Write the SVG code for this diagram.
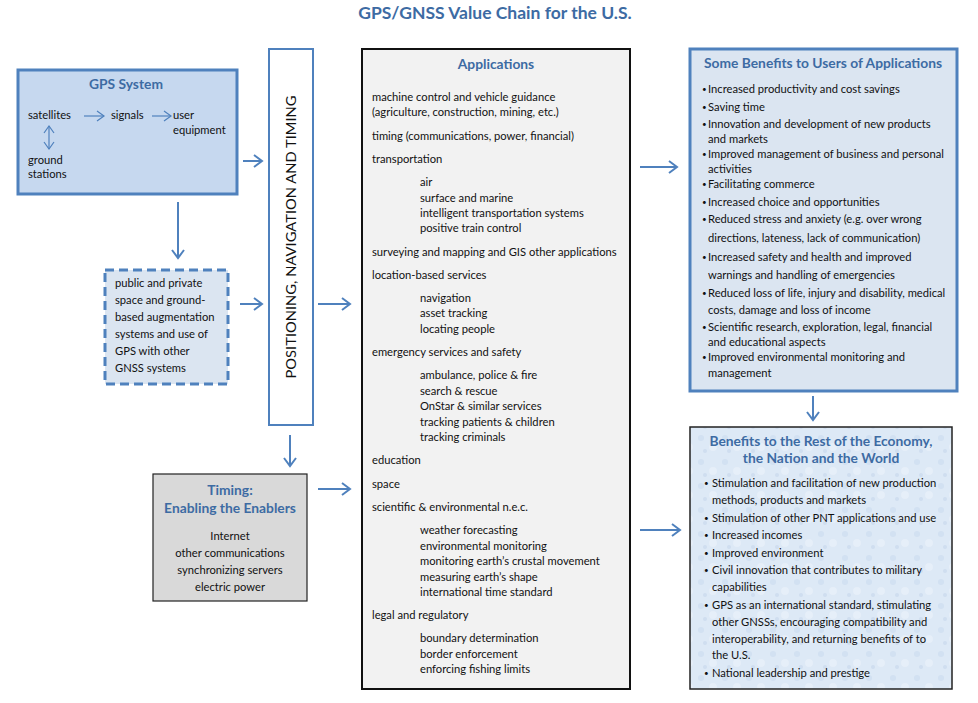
<svg xmlns="http://www.w3.org/2000/svg" width="978" height="703" viewBox="0 0 978 703">
<defs>
<marker id="ah" markerUnits="userSpaceOnUse" markerWidth="12" markerHeight="14" refX="9" refY="7" orient="auto">
<path d="M1,1 L9,7 L1,13" fill="none" stroke="#4f81bd" stroke-width="2"/>
</marker>
<marker id="ahs" markerUnits="userSpaceOnUse" markerWidth="10" markerHeight="12" refX="8" refY="6" orient="auto-start-reverse">
<path d="M1,1 L8,6 L1,11" fill="none" stroke="#4f81bd" stroke-width="1.2"/>
</marker>
<pattern id="tex" width="24" height="24" patternUnits="userSpaceOnUse">
<rect width="24" height="24" fill="#dde9f6"/>
<circle cx="5" cy="6" r="3" fill="#d2e1f2"/>
<circle cx="17" cy="15" r="4" fill="#e6eff9"/>
<circle cx="9" cy="19" r="2" fill="#cfdef0"/>
</pattern>
</defs>
<style>
text{font-family:Lato,"Open Sans","Liberation Sans",sans-serif;fill:#111;font-size:11.2px}
.h{font-weight:bold;fill:#3d6ba3;font-size:13.8px}
.c{text-anchor:middle}
.b{font-size:8px}
.con line{stroke:#4f81bd;stroke-width:2;marker-end:url(#ah)}
</style>
<rect width="978" height="703" fill="#fff"/>
<text class="h c" x="495" y="19" style="font-size:17.5px">GPS/GNSS Value Chain for the U.S.</text>

<g id="gps">
<rect x="18" y="70" width="219" height="124" fill="#c6d8ef" stroke="#4f81bd" stroke-width="3"/>
<text class="h c" x="126" y="89">GPS System</text>
<text x="28" y="119">satellites</text>
<text x="111" y="119">signals</text>
<text x="173" y="119">user</text>
<text x="173" y="134">equipment</text>
<text x="28" y="164">ground</text>
<text x="28" y="178">stations</text>
<line x1="84" y1="116" x2="104" y2="116" stroke="#4f81bd" stroke-width="1.2" marker-end="url(#ahs)"/>
<line x1="152" y1="116" x2="171" y2="116" stroke="#4f81bd" stroke-width="1.2" marker-end="url(#ahs)"/>
<line x1="49" y1="126" x2="49" y2="149" stroke="#4f81bd" stroke-width="1.2" marker-start="url(#ahs)" marker-end="url(#ahs)"/>
</g>

<g id="augment">
<rect x="105" y="270" width="123" height="114" fill="#dbe5f1" stroke="#4f81bd" stroke-width="3" stroke-dasharray="9,5"/>
<text x="115" y="287">public and private</text>
<text x="115" y="304">space and ground-</text>
<text x="115" y="321">based augmentation</text>
<text x="115" y="338">systems and use of</text>
<text x="115" y="355">GPS with other</text>
<text x="115" y="372">GNSS systems</text>
</g>

<g id="pnt">
<rect x="269" y="49" width="44" height="376" fill="#fff" stroke="#4f81bd" stroke-width="2"/>
<text transform="translate(296,237) rotate(-90)" class="c" style="font-size:14px" textLength="283" lengthAdjust="spacingAndGlyphs">POSITIONING, NAVIGATION AND TIMING</text>
</g>

<g id="timing">
<rect x="153" y="474" width="154" height="127" fill="#d9d9d9" stroke="#222" stroke-width="1.2"/>
<text class="h c" x="230" y="495">Timing:</text>
<text class="h c" x="230" y="513">Enabling the Enablers</text>
<text class="c" x="230" y="540">Internet</text>
<text class="c" x="230" y="557">other communications</text>
<text class="c" x="230" y="574">synchronizing servers</text>
<text class="c" x="230" y="591">electric power</text>
</g>

<g id="applications">
<rect x="362" y="49" width="268" height="640" fill="#f2f2f2" stroke="#111" stroke-width="2"/>
<text class="h c" x="496" y="69">Applications</text>
<text x="372" y="101">machine control and vehicle guidance</text>
<text x="372" y="116">(agriculture, construction, mining, etc.)</text>
<text x="372" y="140">timing (communications, power, financial)</text>
<text x="372" y="163">transportation</text>
<text x="420" y="186">air</text>
<text x="420" y="202">surface and marine</text>
<text x="420" y="217">intelligent transportation systems</text>
<text x="420" y="232">positive train control</text>
<text x="372" y="256">surveying and mapping and GIS other applications</text>
<text x="372" y="279">location-based services</text>
<text x="420" y="302">navigation</text>
<text x="420" y="317">asset tracking</text>
<text x="420" y="333">locating people</text>
<text x="372" y="356">emergency services and safety</text>
<text x="420" y="379">ambulance, police &amp; fire</text>
<text x="420" y="395">search &amp; rescue</text>
<text x="420" y="410">OnStar &amp; similar services</text>
<text x="420" y="426">tracking patients &amp; children</text>
<text x="420" y="441">tracking criminals</text>
<text x="372" y="464">education</text>
<text x="372" y="488">space</text>
<text x="372" y="511">scientific &amp; environmental n.e.c.</text>
<text x="420" y="534">weather forecasting</text>
<text x="420" y="550">environmental monitoring</text>
<text x="420" y="565">monitoring earth’s crustal movement</text>
<text x="420" y="581">measuring earth’s shape</text>
<text x="420" y="596">international time standard</text>
<text x="372" y="619">legal and regulatory</text>
<text x="420" y="642">boundary determination</text>
<text x="420" y="658">border enforcement</text>
<text x="420" y="673">enforcing fishing limits</text>
</g>

<g id="users">
<rect x="690" y="49" width="267" height="342" fill="#dbe5f1" stroke="#4f81bd" stroke-width="3"/>
<text class="h c" x="823" y="68">Some Benefits to Users of Applications</text>
<text class="b" x="702" y="92">•</text><text x="708" y="93">Increased productivity and cost savings</text>
<text class="b" x="702" y="110">•</text><text x="708" y="111">Saving time</text>
<text class="b" x="702" y="127">•</text><text x="708" y="128">Innovation and development of new products</text>
<text x="708" y="143">and markets</text>
<text class="b" x="702" y="157">•</text><text x="708" y="158">Improved management of business and personal</text>
<text x="708" y="173">activities</text>
<text class="b" x="702" y="187">•</text><text x="708" y="188">Facilitating commerce</text>
<text class="b" x="702" y="205">•</text><text x="708" y="206">Increased choice and opportunities</text>
<text class="b" x="702" y="222">•</text><text x="708" y="223">Reduced stress and anxiety (e.g. over wrong</text>
<text x="708" y="242">directions, lateness, lack of communication)</text>
<text class="b" x="702" y="260">•</text><text x="708" y="261">Increased safety and health and improved</text>
<text x="708" y="279">warnings and handling of emergencies</text>
<text class="b" x="702" y="296">•</text><text x="708" y="297">Reduced loss of life, injury and disability, medical</text>
<text x="708" y="314">costs, damage and loss of income</text>
<text class="b" x="702" y="330">•</text><text x="708" y="331">Scientific research, exploration, legal, financial</text>
<text x="708" y="346">and educational aspects</text>
<text class="b" x="702" y="360">•</text><text x="708" y="361">Improved environmental monitoring and</text>
<text x="708" y="377">management</text>
</g>

<g id="rest">
<rect x="690" y="427" width="262" height="262" fill="url(#tex)" stroke="#222" stroke-width="1.5"/>
<text class="h c" x="821" y="446">Benefits to the Rest of the Economy,</text>
<text class="h c" x="821" y="463">the Nation and the World</text>
<text class="b" x="704" y="486">•</text><text x="712" y="487">Stimulation and facilitation of new production</text>
<text x="712" y="504">methods, products and markets</text>
<text class="b" x="704" y="521">•</text><text x="712" y="522">Stimulation of other PNT applications and use</text>
<text class="b" x="704" y="538">•</text><text x="712" y="539">Increased incomes</text>
<text class="b" x="704" y="556">•</text><text x="712" y="557">Improved environment</text>
<text class="b" x="704" y="573">•</text><text x="712" y="574">Civil innovation that contributes to military</text>
<text x="712" y="591">capabilities</text>
<text class="b" x="704" y="608">•</text><text x="712" y="609">GPS as an international standard, stimulating</text>
<text x="712" y="626">other GNSSs, encouraging compatibility and</text>
<text x="712" y="643">interoperability, and returning benefits of to</text>
<text x="712" y="659">the U.S.</text>
<text class="b" x="704" y="676">•</text><text x="712" y="677">National leadership and prestige</text>
</g>

<g id="connectors" class="con">
<line x1="243" y1="161" x2="262" y2="161"/>
<line x1="178" y1="202" x2="178" y2="258"/>
<line x1="240" y1="304" x2="262" y2="304"/>
<line x1="318" y1="304" x2="350" y2="304"/>
<line x1="290" y1="435" x2="290" y2="466"/>
<line x1="318" y1="489" x2="350" y2="489"/>
<line x1="640" y1="167" x2="677" y2="167"/>
<line x1="640" y1="530" x2="680" y2="530"/>
<line x1="813" y1="396" x2="813" y2="420"/>
</g>
</svg>
